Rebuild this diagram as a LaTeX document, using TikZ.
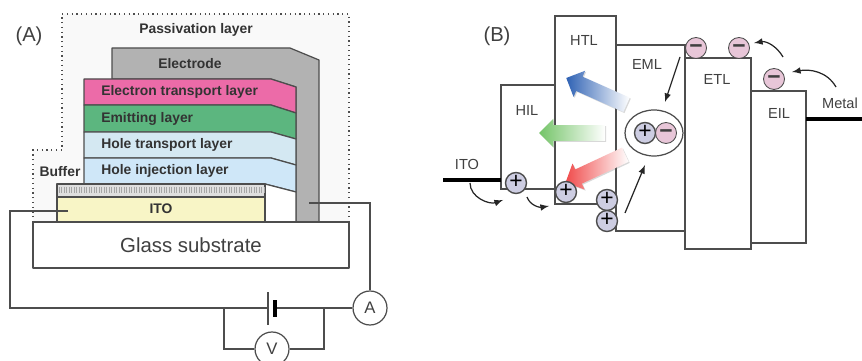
\documentclass[tikz,border=0pt]{standalone}
\usepackage{xcolor}
\usepackage{fontspec}
\setmainfont{Liberation Sans}
\definecolor{line-gray}{HTML}{4D4D4D}
\definecolor{pale-pink}{HTML}{EC6BA8}
\definecolor{pale-green}{HTML}{5CB67F}
\definecolor{pale-blue}{HTML}{D4E8F2}
\definecolor{sky-blue}{HTML}{CFE7F8}
\definecolor{pale-yellow}{HTML}{F8F5C6}
\definecolor{plus-blue}{HTML}{CDCDE2}
\definecolor{minus-pink}{HTML}{E8C6D8}
\definecolor{light-blue}{HTML}{2F62B4}
\definecolor{light-green}{HTML}{74C468}
\definecolor{light-red}{HTML}{F04B4B}
\usetikzlibrary{shapes.arrows}
\usetikzlibrary{shapes.geometric}
\usetikzlibrary{shadows}
\tikzset{layer/.style = {draw=line-gray, line width=.7pt, line join=round}}
\tikzset{layerlabel/.style = {font=\fontsize{7.9}{9}\selectfont\bfseries, text=black!80, anchor=west, inner sep=0}}
\tikzset{bandbox/.style = {draw=line-gray, line width=1pt, fill=white}}
\tikzset{bandlabel/.style = {font=\fontsize{8.3}{10}\selectfont, text=black!75, inner sep=0}}
\tikzset{wire/.style = {draw=line-gray, line width=.7pt}}
\tikzset{meter/.style = {circle, draw=line-gray, line width=.7pt, fill=white, minimum size=.68cm, inner sep=0, font=\fontsize{9.5}{11}\selectfont, text=black!75}}
\tikzset{plus/.style = {circle, draw=line-gray, line width=.8pt, fill=plus-blue, minimum size=.42cm, inner sep=0, text height=.66em, text depth=0pt, font=\fontsize{13}{13}\selectfont}}
\tikzset{minus/.style = {circle, draw=line-gray, line width=.5pt, fill=minus-pink, minimum size=.42cm, inner sep=0, text height=.66em, text depth=0pt, font=\fontsize{13}{13}\selectfont\bfseries, text=black!75}}
\tikzset{arr/.style = {line width=.7pt, black!85, -latex}}
\tikzset{contact/.style = {black, line width=2pt}}
\tikzset{fatarrow/.style = {single arrow, minimum height=1.32cm, minimum width=.56cm, inner sep=.15cm, single arrow head extend=.13cm, draw=none, drop shadow={opacity=.3, shadow xshift=.6pt, shadow yshift=-.6pt}}}

\begin{document}
\begin{tikzpicture}[x=.02cm, y=-.02cm]
\useasboundingbox (0,0) rectangle (862,361);

% device stack
\fill[gray!5] (62,14) -- (349,14) -- (349,222) -- (33,222) -- (33,150) -- (62,150) -- cycle;
\draw[dotted, line width=.7pt, line-gray] (33,222) -- (33,150) -- (62,150) -- (62,14) -- (349,14) -- (349,222);
\draw[layer, fill=gray!60] (112,79) -- (112,48) -- (290,48) -- (319,60) -- (319,222) -- (296,222) -- (296,87) -- (271,79) -- cycle;
\draw[layer, fill=pale-pink] (84,79) -- (271,79) -- (296,87) -- (296,113) -- (271,105) -- (84,105) -- cycle;
\draw[layer, fill=pale-green] (84,105) -- (271,105) -- (296,113) -- (296,139) -- (271,132) -- (84,132) -- cycle;
\draw[layer, fill=pale-blue] (84,132) -- (271,132) -- (296,139) -- (296,165) -- (271,158) -- (84,158) -- cycle;
\draw[layer, fill=sky-blue] (84,158) -- (271,158) -- (296,165) -- (296,192) -- (265,184) -- (84,184) -- cycle;
\draw[layer, fill=white] (265,184) -- (296,192) -- (296,222) -- (265,222) -- cycle;
\draw[layer, fill=gray!25] (57,184) rectangle (265,197);
\foreach \tickx in {59,61.5,...,264} {
  \draw[gray!70, line width=.5pt] (\tickx,187) -- (\tickx,193);
}
\draw[layer, fill=pale-yellow] (57,197) rectangle (265,222);
\draw[layer, fill=white] (33,222) rectangle (349,268);

\node[layerlabel, anchor=center] (passlabel) at (196,30) {Passivation layer};
\node[layerlabel, anchor=center] (electrodelabel) at (190,64) {Electrode};
\node[layerlabel] (etllabel) at (101,92) {Electron transport layer};
\node[layerlabel] (emllabel) at (101,119) {Emitting layer};
\node[layerlabel] (htllabel) at (101,145) {Hole transport layer};
\node[layerlabel] (hillabel) at (101,171) {Hole injection layer};
\node[layerlabel, anchor=center] (bufferlabel) at (60,172) {Buffer};
\node[layerlabel, anchor=center] (itolabel) at (161,209) {ITO};
\node[font=\fontsize{11.6}{13}\selectfont, text=black!75, inner sep=0] (glass) at (191,245) {Glass substrate};
\node[font=\fontsize{11.5}{13}\selectfont, text=black!75, inner sep=0] (panela) at (29,36) {(A)};

% circuit
\coordinate (itotap) at (68,211);
\coordinate (electap) at (309,203);
\coordinate (corner) at (10,308);
\coordinate (platea) at (268,308);
\coordinate (plateb) at (275,308);
\node[meter] (ammeter) at (370,308) {A};
\node[meter] (voltmeter) at (272,349) {V};
\coordinate (tapl) at (224,308);
\coordinate (tapr) at (324,308);
\draw[wire] (itotap) -- (10,211) -- (corner) -- (platea);
\draw[wire] (plateb) -- (ammeter);
\draw[wire] (ammeter) -- (370,203) -- (electap);
\draw[wire] (tapl) |- (voltmeter);
\draw[wire] (tapr) |- (voltmeter);
\draw[wire, line width=1pt] (268,292) -- (268,325);
\draw[black, line width=2.4pt] (275,300) -- (275,317);

% energy levels
\draw[bandbox] (501,85) rectangle (555,189);
\draw[bandbox] (616,45) rectangle (685,231);
\draw[bandbox] (751,91) rectangle (806,243);
\draw[bandbox] (555,16) rectangle (616,204);
\draw[bandbox] (685,58) rectangle (751,249);
\draw[contact] (443,180) -- (501,180);
\draw[contact] (806,119) -- (862,119);

\node[bandlabel] (itoband) at (467,164) {ITO};
\node[bandlabel] (hilband) at (527,110) {HIL};
\node[bandlabel] (htlband) at (584,40) {HTL};
\node[bandlabel] (emlband) at (647,64) {EML};
\node[bandlabel] (etlband) at (717,79) {ETL};
\node[bandlabel] (eilband) at (779,113) {EIL};
\node[bandlabel] (metal) at (840,103) {Metal};
\node[font=\fontsize{11.5}{13}\selectfont, text=black!75, inner sep=0] (panelb) at (497,36) {(B)};

% emitted light
\node[fatarrow, rotate=156, left color=light-blue, right color=white] (bluelight) at (600,93) {};
\node[fatarrow, rotate=180, left color=light-green, right color=white] (greenlight) at (576,133) {};
\node[fatarrow, rotate=205, left color=light-red, right color=white] (redlight) at (599,167) {};

% carriers
\node[draw=line-gray, line width=.7pt, ellipse, fill=white, minimum width=1.16cm, minimum height=.92cm] (exciton) at (654,133) {};
\node[plus] (p1) at (516,183) {+};
\node[plus] (p2) at (566,192) {+};
\node[plus] (p3) at (607,200) {+};
\node[plus] (p4) at (607,221) {+};
\node[plus] (p5) at (645,133) {+};
\node[minus] (m1) at (696,48) {−};
\node[minus] (m2) at (739,48) {−};
\node[minus] (m3) at (774,79) {−};
\node[minus] (m4) at (666,133) {−};

\coordinate (hopa) at (470,183);
\coordinate (hopb) at (503,200);
\coordinate (hopc) at (527,197);
\coordinate (hopd) at (549,206);
\coordinate (hope) at (836,87);
\coordinate (hopf) at (792,72);
\coordinate (hopg) at (783,57);
\coordinate (hoph) at (754,43);
\coordinate (driftp) at (625,213);
\coordinate (driftm) at (680,57);
\draw[arr] (hopa) to[out=-90, in=200] (hopb);
\draw[arr] (hopc) to[out=-70, in=190] (hopd);
\draw[arr] (hope) to[out=120, in=10] (hopf);
\draw[arr] (hopg) to[out=120, in=10] (hoph);
\draw[arr] (driftp) -- (645,165);
\draw[arr] (driftm) -- (665,102);

\end{tikzpicture}
\end{document}
